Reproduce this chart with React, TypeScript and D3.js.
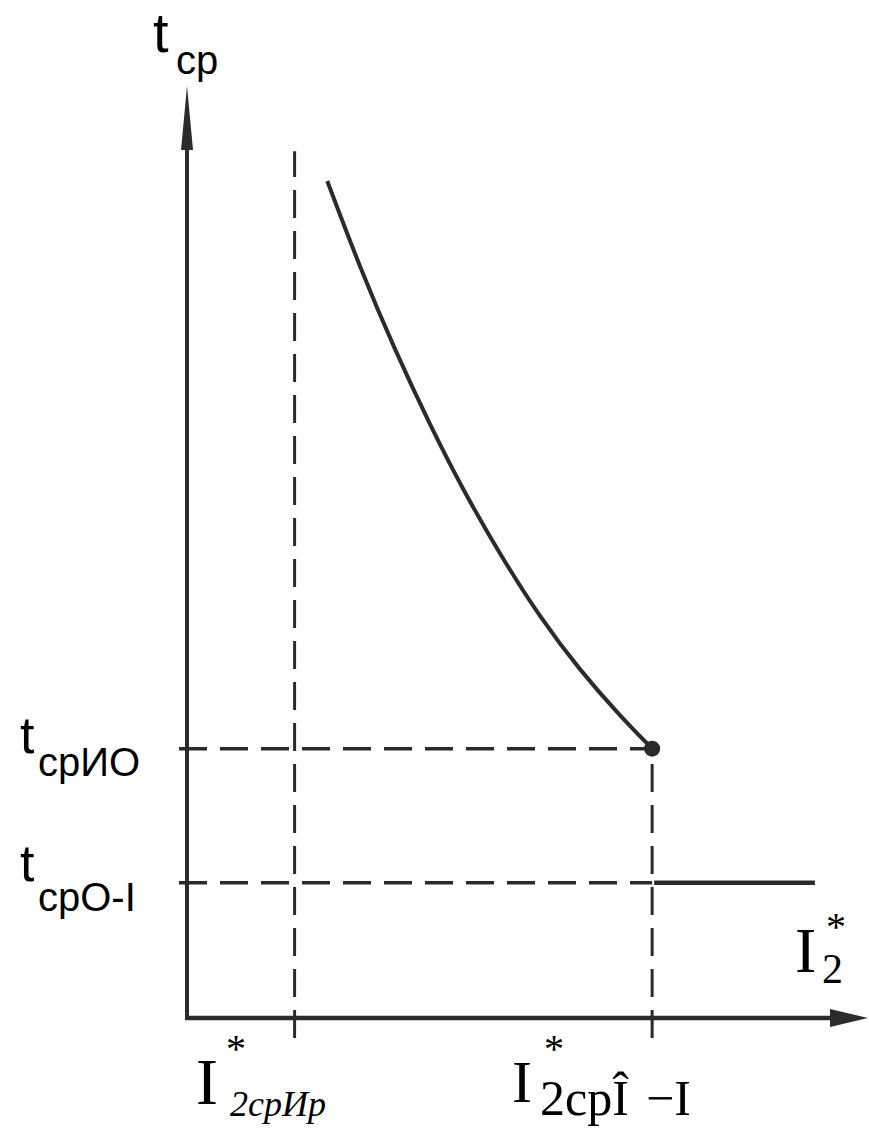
import React from 'react';
import * as d3 from 'd3';

const W = 869;
const H = 1137;

// current axis I2* (abstract units), time axis tср (abstract units)
const currentMarks = [1.58, 6.83]; // I*2срИр, I*2срО-I
const timeMarks = [2.89, 1.45]; // tсрИО, tсрО-I
const curveI = [2.06, 2.54, 3.05, 3.57, 4.08, 4.6, 5.18, 5.77, 6.36, 6.83];
const curveT = [8.98, 8.05, 7.17, 6.36, 5.63, 4.97, 4.3, 3.73, 3.24, 2.89];
const flatI = [6.86, 9.22];
const vDashTop = 9.3; // upper end of the first vertical dashed line

const ink = '#2b2b2b';

export default function App() {
  const x = d3.scaleLinear().domain([0, 10]).range([187, 868]);
  const y = d3.scaleLinear().domain([0, 10]).range([1018, 86]);

  const pts: [number, number][] = curveI.map((v, i) => [v, curveT[i]]);
  const line = d3
    .line<[number, number]>()
    .x((d) => x(d[0]))
    .y((d) => y(d[1]))
    .curve(d3.curveBasis);

  const x0 = x(0);
  const y0 = y(0);
  const below = y0 + 20;
  const dash = '28 13';

  return (
    <svg
      width={W}
      height={H}
      style={{ position: 'absolute', left: 0, top: 0, background: '#fff' }}
    >
      {/* axes */}
      <line x1={x0} y1={y0} x2={x0} y2={y(10) + 50} stroke={ink} strokeWidth={4} />
      <polygon
        points={`${x0},${y(10)} ${x0 - 6},${y(10) + 64} ${x0 + 6},${y(10) + 64}`}
        fill={ink}
      />
      <line x1={x0 - 2} y1={y0} x2={x(10) - 30} y2={y0} stroke={ink} strokeWidth={4.5} />
      <polygon
        points={`${x(10)},${y0} ${x(10) - 38},${y0 - 9} ${x(10) - 38},${y0 + 9}`}
        fill={ink}
      />

      {/* vertical dashed lines, drawn upwards so a dash crosses the axis */}
      <line
        x1={x(currentMarks[0])}
        x2={x(currentMarks[0])}
        y1={below}
        y2={y(vDashTop)}
        stroke={ink}
        strokeWidth={3}
        strokeDasharray={dash}
      />
      <line
        x1={x(currentMarks[1])}
        x2={x(currentMarks[1])}
        y1={below}
        y2={y(timeMarks[0])}
        stroke={ink}
        strokeWidth={3}
        strokeDasharray={dash}
      />

      {/* horizontal dashed lines */}
      {timeMarks.map((t, i) => (
        <line
          key={i}
          x1={x0 - 8}
          x2={x(currentMarks[1])}
          y1={y(t)}
          y2={y(t)}
          stroke={ink}
          strokeWidth={3.5}
          strokeDasharray={dash}
        />
      ))}

      {/* characteristic */}
      <path d={line(pts) ?? ''} fill="none" stroke={ink} strokeWidth={4} />
      <circle cx={x(curveI[curveI.length - 1])} cy={y(curveT[curveT.length - 1])} r={8} fill={ink} />
      <line
        x1={x(flatI[0])}
        x2={x(flatI[1])}
        y1={y(timeMarks[1])}
        y2={y(timeMarks[1])}
        stroke={ink}
        strokeWidth={4.5}
      />

      {/* axis titles */}
      <g fontFamily="'Liberation Sans', Arial, sans-serif" fill="#000">
        <text x={153} y={52} fontSize={56}>t</text>
        <text x={176} y={74} fontSize={40}>ср</text>

        <text x={20} y={753} fontSize={52}>t</text>
        <text x={38} y={776} fontSize={40}>срИО</text>

        <text x={20} y={881} fontSize={52}>t</text>
        <text x={38} y={911} fontSize={40}>срО-I</text>
      </g>

      <g fontFamily="'Liberation Serif', 'Times New Roman', serif" fill="#000">
        <text x={795} y={972} fontSize={64}>I</text>
        <text x={826} y={940} fontSize={40}>*</text>
        <text x={822} y={983} fontSize={42}>2</text>

        <text x={196} y={1104} fontSize={66}>I</text>
        <text x={226} y={1062} fontSize={40}>*</text>
        <text x={230} y={1116} fontSize={36} fontStyle="italic">2срИр</text>

        <text x={512} y={1102} fontSize={60}>I</text>
        <text x={544} y={1062} fontSize={40}>*</text>
        <text x={540} y={1115} fontSize={50}>2срÎ</text>
        <text x={646} y={1115} fontSize={50}>−I</text>
      </g>
    </svg>
  );
}
